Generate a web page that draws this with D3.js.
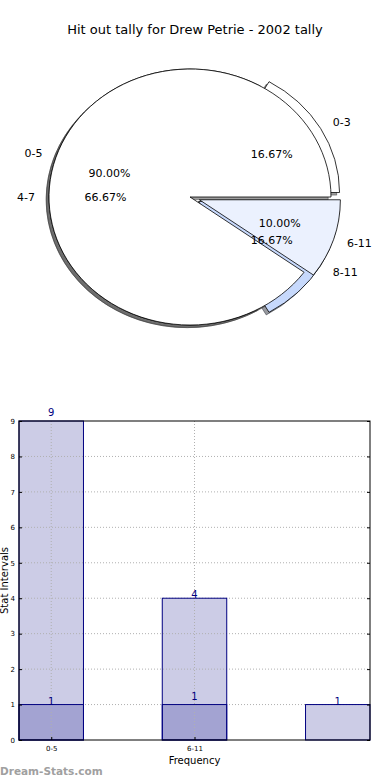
<!DOCTYPE html>
<meta charset="utf-8">
<style>
body { margin: 0; background: #fff; }
text { font-family: "DejaVu Sans", sans-serif; }
.grid line { stroke: #b0b0b0; stroke-width: 1px; stroke-dasharray: 1,2; }
</style>
<body>
<script src="https://d3js.org/d3.v7.min.js"></script>
<script>

// data
var title = "Hit out tally for Drew Petrie - 2002 tally";

var pieALabels = ["0-5", "6-11"];
var pieAValues = [9, 1];
var pieAExplode = [0, 0.07];
var pieAColors = ["#ffffff", "#ebf1fe"];

var pieBLabels = ["0-3", "4-7", "8-11"];
var pieBValues = [1, 4, 1];
var pieBExplode = [0.07, 0, 0.07];
var pieBColors = ["#ffffff", "#ffffff", "#c7d9fc"];

var barCategories = ["0-5", "6-11", ""];
var barSeriesA = [9, 1];
var barSeriesB = [1, 4, 1];
var yTicks = [0, 1, 2, 3, 4, 5, 6, 7, 8, 9];

var W = 390, H = 780;
var svg = d3.select("body").append("svg")
    .attr("width", W)
    .attr("height", H);

svg.append("text")
    .attr("x", 195).attr("y", 34)
    .attr("text-anchor", "middle")
    .style("font-size", "13px")
    .text(title);

// pie part (axes not equal, so the pie is an ellipse)
var cx = 190, cy = 197, rx = 141, ry = 128;
var px = d3.scaleLinear().domain([-1, 1]).range([cx - rx, cx + rx]);
var py = d3.scaleLinear().domain([-1, 1]).range([cy - ry, cy + ry]);

// matplotlib style: start at east, go counter-clockwise
var pie = d3.pie().sort(null).startAngle(Math.PI / 2).endAngle(Math.PI / 2 - 2 * Math.PI);
var arc = d3.arc().innerRadius(0).outerRadius(1);

function build(labels, values, explode, colors) {
  var total = d3.sum(values);
  return pie(values).map(function(d, i) {
    var am = (d.startAngle + d.endAngle) / 2;
    var ex = explode[i] * Math.sin(am), ey = -explode[i] * Math.cos(am);
    return {arc: d, label: labels[i], pct: (100 * values[i] / total).toFixed(2) + "%",
            color: colors[i], ex: ex, ey: ey, am: am};
  });
}
var wedgesA = build(pieALabels, pieAValues, pieAExplode, pieAColors);
var wedgesB = build(pieBLabels, pieBValues, pieBExplode, pieBColors);

var pieG = svg.append("g");

function wedgeTransform(w, dx, dy) {
  return "translate(" + (px(w.ex) + dx) + "," + (py(w.ey) + dy) + ") scale(" + rx + "," + ry + ")";
}

// shadows first (they sit under every wedge)
[wedgesB, wedgesA].forEach(function(ws) {
  pieG.selectAll(null).data(ws).enter().append("path")
      .attr("d", function(w) { return arc(w.arc); })
      .attr("transform", function(w) { return wedgeTransform(w, -2.8, 2.6); })
      .attr("fill", function(w) { return d3.rgb(w.color).darker(4); })
      .attr("fill-opacity", 0.5)
      .attr("stroke", function(w) { return d3.rgb(w.color).darker(4); })
      .attr("stroke-opacity", 0.5)
      .attr("stroke-width", 1)
      .attr("vector-effect", "non-scaling-stroke");
});

[wedgesB, wedgesA].forEach(function(ws) {
  pieG.selectAll(null).data(ws).enter().append("path")
      .attr("d", function(w) { return arc(w.arc); })
      .attr("transform", function(w) { return wedgeTransform(w, 0, 0); })
      .attr("fill", function(w) { return w.color; })
      .attr("stroke", "#000")
      .attr("stroke-width", 0.8)
      .attr("vector-effect", "non-scaling-stroke");
});

[wedgesB, wedgesA].forEach(function(ws) {
  ws.forEach(function(w) {
    var s = Math.sin(w.am), c = -Math.cos(w.am);
    var lx = px(w.ex + 1.1 * s), ly = py(w.ey + 1.1 * c);
    pieG.append("text")
        .attr("x", lx).attr("y", ly)
        .attr("dy", "0.35em")
        .attr("text-anchor", s < 0 ? "end" : "start")
        .style("font-size", "11px")
        .text(w.label);
    pieG.append("text")
        .attr("x", px(w.ex + 0.6 * s)).attr("y", py(w.ey + 0.6 * c))
        .attr("dy", "0.35em")
        .attr("text-anchor", "middle")
        .style("font-size", "11px")
        .text(w.pct);
  });
});

// bar part
var bx0 = 19, bx1 = 370, by0 = 421, by1 = 740;
var barW = 0.45;
var x = d3.scaleLinear().domain([-barW / 2, barCategories.length - 1 + barW / 2]).range([bx0, bx1]);
var y = d3.scaleLinear().domain([0, 9]).range([by1, by0]);

var barG = svg.append("g");
var fillG = barG.append("g");
var grid = barG.append("g").attr("class", "grid");
var edgeG = barG.append("g");

// grid (over the bar fills, under the bar edges)
grid.selectAll(null).data(yTicks.slice(1, -1)).enter().append("line")
    .attr("x1", bx0).attr("x2", bx1)
    .attr("y1", function(d) { return y(d); }).attr("y2", function(d) { return y(d); });
grid.selectAll(null).data([0, 1]).enter().append("line")
    .attr("y1", by0).attr("y2", by1)
    .attr("x1", function(d) { return x(d); }).attr("x2", function(d) { return x(d); });

function drawBars(values, labelOffset) {
  fillG.selectAll(null).data(values).enter().append("rect")
      .attr("x", function(d, i) { return x(i - barW / 2); })
      .attr("width", x(barW) - x(0))
      .attr("y", function(d) { return y(d); })
      .attr("height", function(d) { return y(0) - y(d); })
      .attr("fill", "#000080")
      .attr("fill-opacity", 0.2);
  edgeG.selectAll(null).data(values).enter().append("rect")
      .attr("x", function(d, i) { return x(i - barW / 2); })
      .attr("width", x(barW) - x(0))
      .attr("y", function(d) { return y(d); })
      .attr("height", function(d) { return y(0) - y(d); })
      .attr("fill", "none")
      .attr("stroke", "#000080")
      .attr("stroke-width", 1);
  edgeG.selectAll(null).data(values).enter().append("text")
      .attr("x", function(d, i) { return x(i); })
      .attr("y", function(d) { return y(d) - labelOffset; })
      .attr("text-anchor", "middle")
      .attr("fill", "#000080")
      .style("font-size", "10px")
      .text(function(d) { return d; });
}
drawBars(barSeriesA, 5);
drawBars(barSeriesB, 0);

// frame
barG.append("rect")
    .attr("x", bx0).attr("y", by0)
    .attr("width", bx1 - bx0).attr("height", by1 - by0)
    .attr("fill", "none").attr("stroke", "#000").attr("stroke-width", 1);

// y axis
var yAxis = d3.axisLeft(y).tickValues(yTicks).tickSize(-3).tickPadding(4);
barG.append("g")
    .attr("transform", "translate(" + bx0 + ",0)")
    .call(yAxis)
    .call(function(g) { g.select(".domain").remove(); })
    .call(function(g) { g.selectAll("text").style("font-size", "7px").style("font-family", "DejaVu Sans"); });
barG.append("g")
    .attr("transform", "translate(" + bx1 + ",0)")
    .call(d3.axisRight(y).tickValues(yTicks).tickSize(-3).tickFormat(""))
    .call(function(g) { g.select(".domain").remove(); });

// x axis
var xAxis = d3.axisBottom(x).tickValues([0, 1]).tickSize(-3).tickPadding(6)
    .tickFormat(function(d) { return barCategories[d]; });
barG.append("g")
    .attr("transform", "translate(0," + by1 + ")")
    .call(xAxis)
    .call(function(g) { g.select(".domain").remove(); })
    .call(function(g) { g.selectAll("text").style("font-size", "7px").style("font-family", "DejaVu Sans"); });

barG.append("text")
    .attr("x", (bx0 + bx1) / 2).attr("y", 764)
    .attr("text-anchor", "middle")
    .style("font-size", "10px")
    .text("Frequency");

barG.append("text")
    .attr("transform", "translate(8," + ((by0 + by1) / 2) + ") rotate(-90)")
    .attr("text-anchor", "middle")
    .style("font-size", "10px")
    .text("Stat Intervals");

svg.append("text")
    .attr("x", 0).attr("y", 775)
    .attr("fill", "#a0a0a0")
    .style("font-size", "10.5px")
    .style("font-weight", "bold")
    .text("Dream-Stats.com");

</script>
</body>
